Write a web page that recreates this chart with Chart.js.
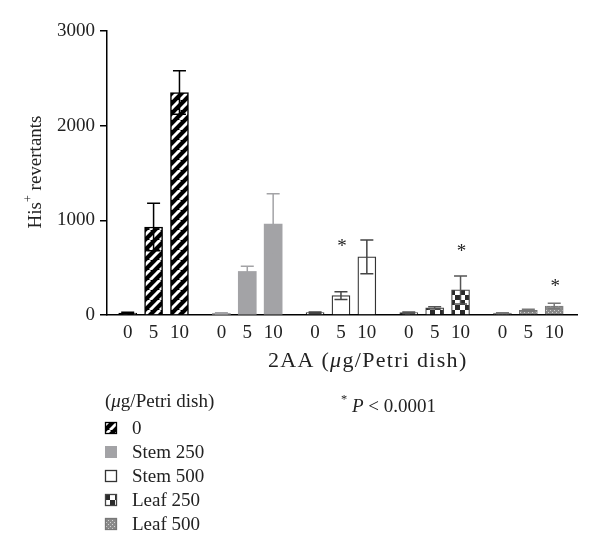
<!DOCTYPE html>
<html>
<head>
<meta charset="utf-8">
<script src="https://cdn.jsdelivr.net/npm/chart.js@4"></script>
<style>
  html, body { margin: 0; padding: 0; background: #fff; }
  #wrap { width: 600px; height: 557px; }
</style>
</head>
<body>
<div id="wrap"><canvas id="myChart" width="600" height="557"></canvas></div>
<script>
// data
const doses = ['0', '5', '10'];
const groups = ['0', 'Stem 250', 'Stem 500', 'Leaf 250', 'Leaf 500'];
const meanCtrl = [20, 930, 2350];
const errCtrl = [8, 250, 230];
const meanStem250 = [18, 460, 960];
const errStem250 = [5, 55, 320];
const meanStem500 = [25, 205, 615];
const errStem500 = [6, 40, 178];
const meanLeaf250 = [25, 75, 265];
const errLeaf250 = [8, 12, 148];
const meanLeaf500 = [20, 50, 95];
const errLeaf500 = [5, 10, 28];
// asterisk heights (His+ revertants scale)
const starCtrl = [null, null, null];
const starStem250 = [null, null, null];
const starStem500 = [null, 760, null];
const starLeaf250 = [null, null, 707];
const starLeaf500 = [null, null, 338];
const yTicks = [0, 1000, 2000, 3000];

const FONT = "'Liberation Serif', 'DejaVu Serif', serif";
const FS = 19;
const groupStep = 3.62;

//patterns
function makeTile(size, draw) {
    const c = document.createElement('canvas');
    c.width = size; c.height = size;
    draw(c.getContext('2d'), size);
    return document.createElement('canvas').getContext('2d').createPattern(c, 'repeat');
}
const hatch = makeTile(10, (g, s) => {
    g.fillStyle = '#000'; g.fillRect(0, 0, s, s);
    g.strokeStyle = '#fff'; g.lineWidth = 3;
    for (let k = -1; k <= 1; k++) {
        g.beginPath(); g.moveTo(k * s, s); g.lineTo(k * s + s, 0); g.stroke();
    }
});
const checker = makeTile(10, (g, s) => {
    g.fillStyle = '#fff'; g.fillRect(0, 0, s, s);
    g.fillStyle = '#2a2a2a';
    g.fillRect(0, 0, 5, 5); g.fillRect(5, 5, 5, 5);
});
const dotted = makeTile(4, (g, s) => {
    g.fillStyle = '#8a8a8a'; g.fillRect(0, 0, s, s);
    g.fillStyle = '#d4d4d4';
    g.fillRect(0, 0, 1, 1); g.fillRect(2, 2, 1, 1);
});

const series = [
    { label: groups[0], mean: meanCtrl, err: errCtrl, star: starCtrl, fill: hatch, border: '#000', bw: 1.5, ecol: '#000' },
    { label: groups[1], mean: meanStem250, err: errStem250, star: starStem250, fill: '#a3a3a6', border: '#a3a3a6', bw: 0, ecol: '#a3a3a6' },
    { label: groups[2], mean: meanStem500, err: errStem500, star: starStem500, fill: '#fff', border: '#333', bw: 1.3, ecol: '#444' },
    { label: groups[3], mean: meanLeaf250, err: errLeaf250, star: starLeaf250, fill: checker, border: '#444', bw: 1.2, ecol: '#555' },
    { label: groups[4], mean: meanLeaf500, err: errLeaf500, star: starLeaf500, fill: dotted, border: '#777', bw: 1, ecol: '#777' }
];

const tickPos = [];
const tickText = [];
series.forEach((s, g) => doses.forEach((d, i) => { tickPos.push(g * groupStep + i); tickText.push(d); }));

const datasets = series.map((s, g) => ({
    label: s.label,
    data: s.mean.map((v, i) => ({ x: g * groupStep + i, y: v })),
    backgroundColor: s.fill,
    borderColor: s.border,
    borderWidth: s.bw,
    barThickness: 18,
    grouped: false,
    err: s.err,
    star: s.star,
    ecol: s.ecol
}));

// draw text pieces, some italic
function rich(ctx, x, y, parts, size) {
    let cx = x;
    parts.forEach(p => {
        const fs = p.sup ? size * 0.65 : size;
        ctx.font = (p.it ? 'italic ' : '') + fs + 'px ' + FONT;
        ctx.fillText(p.t, cx, p.sup ? y - size * 0.38 : y);
        cx += ctx.measureText(p.t).width;
    });
    return cx - x;
}

const extras = {
    id: 'extras',
    afterDatasetsDraw(chart) {
        const ctx = chart.ctx;
        const ys = chart.scales.y;
        ctx.save();
        chart.data.datasets.forEach((ds, di) => {
            const meta = chart.getDatasetMeta(di);
            meta.data.forEach((bar, i) => {
                const v = ds.data[i].y, e = ds.err[i];
                const top = ys.getPixelForValue(v + e), bot = ys.getPixelForValue(Math.max(v - e, 0));
                ctx.strokeStyle = ds.ecol; ctx.lineWidth = 1.5;
                ctx.beginPath();
                ctx.moveTo(bar.x, top); ctx.lineTo(bar.x, bot);
                ctx.moveTo(bar.x - 6.5, top); ctx.lineTo(bar.x + 6.5, top);
                ctx.moveTo(bar.x - 6.5, bot); ctx.lineTo(bar.x + 6.5, bot);
                ctx.stroke();
                if (ds.star[i] != null) {
                    ctx.fillStyle = '#222';
                    ctx.font = '19px ' + FONT;
                    ctx.textAlign = 'center'; ctx.textBaseline = 'middle';
                    ctx.fillText('*', bar.x + 1, ys.getPixelForValue(ds.star[i]) + 4);
                }
            });
        });
        ctx.restore();
    },
    afterDraw(chart) {
        const ctx = chart.ctx;
        ctx.save();
        ctx.fillStyle = '#222';
        ctx.textBaseline = 'middle';
        ctx.textAlign = 'left';
        // y title
        ctx.save();
        ctx.translate(36, 172);
        ctx.rotate(-Math.PI / 2);
        ctx.globalAlpha = 0;
        const w = rich(ctx, 0, 0, [{ t: 'His' }, { t: '+', sup: true }, { t: ' revertants' }], FS);
        ctx.globalAlpha = 1;
        rich(ctx, -w / 2, 0, [{ t: 'His' }, { t: '+', sup: true }, { t: ' revertants' }], FS);
        ctx.restore();
        // x title (set wider in the original)
        ctx.save();
        ctx.letterSpacing = '1.3px';
        rich(ctx, 268, 361, [{ t: '2AA (' }, { t: 'μ', it: true }, { t: 'g/Petri dish)' }], 22);
        ctx.restore();
        // legend
        rich(ctx, 105, 402, [{ t: '(' }, { t: 'μ', it: true }, { t: 'g/Petri dish)' }], FS);
        chart.data.datasets.forEach((ds, i) => {
            const y = 428 + i * 24;
            ctx.fillStyle = ds.backgroundColor;
            ctx.fillRect(105, y - 6, 12, 12);
            if (ds.borderWidth) {
                ctx.strokeStyle = ds.borderColor; ctx.lineWidth = 1.3;
                ctx.strokeRect(105.5, y - 5.5, 11, 11);
            }
            ctx.fillStyle = '#222';
            ctx.font = FS + 'px ' + FONT;
            ctx.fillText(ds.label, 132, y + 1);
        });
        rich(ctx, 341, 407, [{ t: '*', sup: true }, { t: ' ' }, { t: 'P', it: true }, { t: ' < 0.0001' }], FS);
        ctx.restore();
    }
};

const ctx = document.getElementById('myChart');

new Chart(ctx, {
    type: 'bar',
    data: { datasets: datasets },
    options: {
        responsive: false,
        animation: false,
        events: [],
        layout: { padding: { top: 31, right: 23, left: 0, bottom: 0 } },
        plugins: { legend: { display: false }, tooltip: { enabled: false } },
        scales: {
            x: {
                type: 'linear',
                offset: false,
                min: -0.8,
                max: 4 * groupStep + 2.88,
                afterBuildTicks: s => { s.ticks = tickPos.map(v => ({ value: v })); },
                afterFit: s => { s.height = 242; },
                ticks: {
                    autoSkip: false,
                    maxRotation: 0,
                    padding: 7,
                    color: '#222',
                    font: { family: FONT, size: FS },
                    callback: (v, i) => tickText[i]
                },
                grid: { display: false, drawTicks: false },
                border: { display: true, color: '#000', width: 1.5 }
            },
            y: {
                min: 0,
                max: 3000,
                afterBuildTicks: s => { s.ticks = yTicks.map(v => ({ value: v })); },
                afterFit: s => { s.width = 107; },
                ticks: {
                    padding: 5,
                    color: '#222',
                    font: { family: FONT, size: FS },
                    callback: v => String(v)
                },
                grid: { drawOnChartArea: false, drawTicks: true, tickLength: 7, color: '#000', lineWidth: 1.5 },
                border: { display: true, color: '#000', width: 1.5 }
            }
        }
    },
    plugins: [extras]
});
</script>
</body>
</html>
